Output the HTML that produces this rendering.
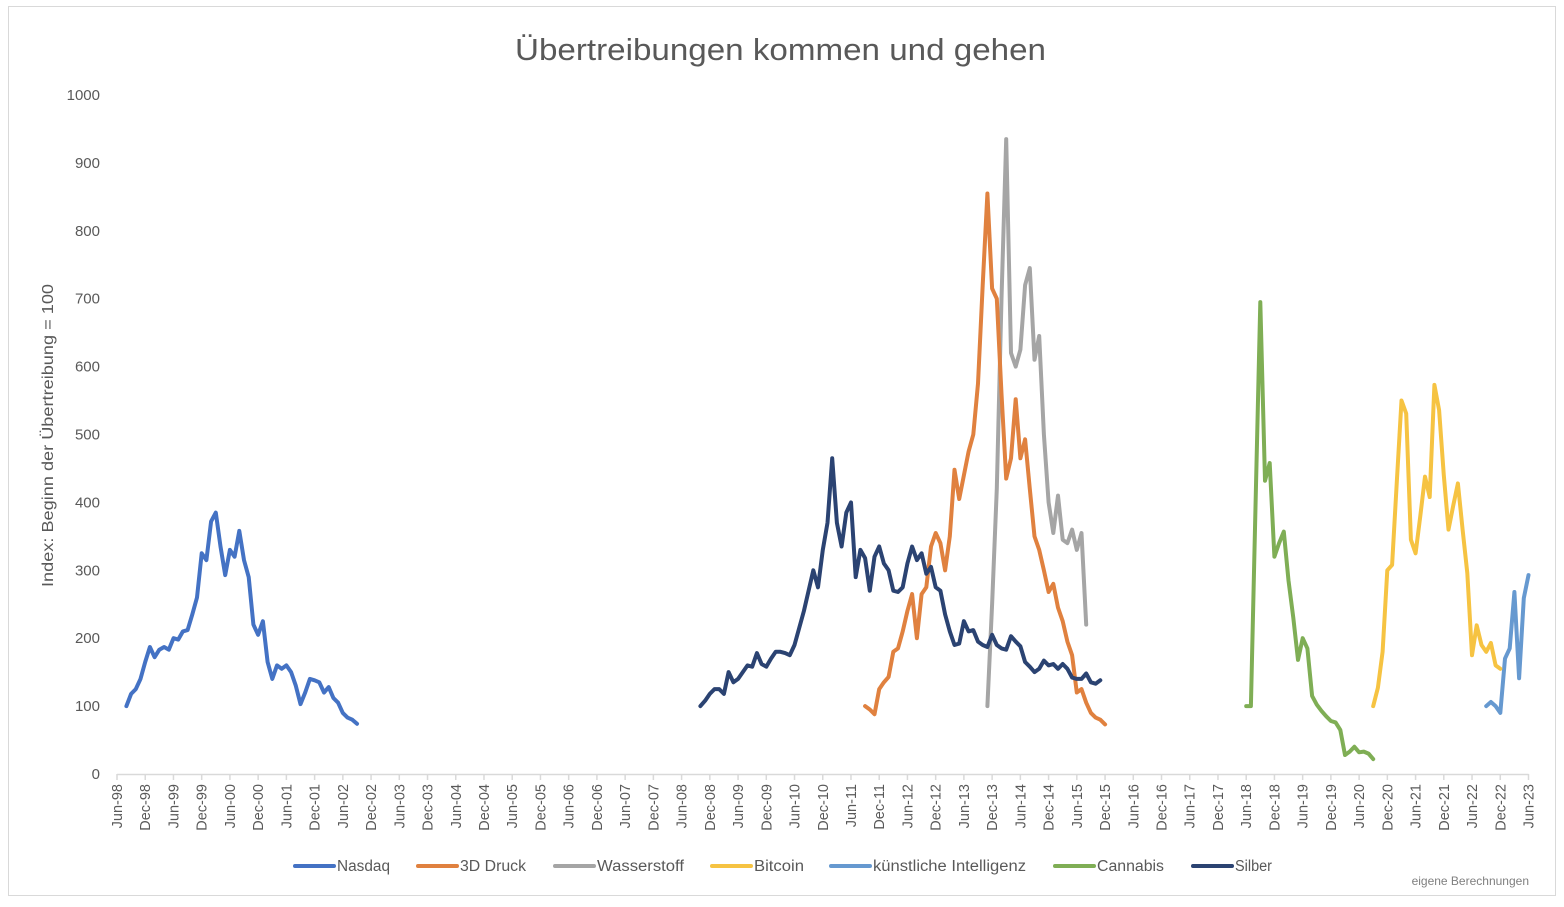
<!DOCTYPE html>
<html><head><meta charset="utf-8"><title>Übertreibungen kommen und gehen</title>
<style>
html,body{margin:0;padding:0;background:#fff;}
body{width:1564px;height:902px;overflow:hidden;font-family:"Liberation Sans",sans-serif;}
</style></head>
<body>
<svg id="chart" width="1564" height="902" viewBox="0 0 1564 902" xmlns="http://www.w3.org/2000/svg" font-family="Liberation Sans, sans-serif">
<rect x="8.5" y="6.5" width="1547" height="889" fill="#fff" stroke="#d9d9d9"/>
<text x="515" y="60" textLength="531" lengthAdjust="spacingAndGlyphs" font-size="31" fill="#595959">Übertreibungen kommen und gehen</text>
<text transform="translate(53,587) rotate(-90)" textLength="303" lengthAdjust="spacingAndGlyphs" font-size="16" fill="#595959">Index: Beginn der Übertreibung = 100</text>
<g id="yticks"></g>
<g id="xaxis"></g>
<g id="series"></g>
<g id="legend"></g>
<text x="1529" y="885" text-anchor="end" font-size="12" fill="#7f7f7f">eigene Berechnungen</text>
</svg>
<script>
const yTicks = [0,100,200,300,400,500,600,700,800,900,1000];
const xTickLabels = [];
const years = ['98','99','00','01','02','03','04','05','06','07','08','09','10','11','12','13','14','15','16','17','18','19','20','21','22','23'];
// monthly values; start = months after Jun-98
const nasdaqStart = 2;
const nasdaq = [100,118,125,140,165,187,172,183,187,183,200,198,210,212,235,260,325,315,372,385,335,293,330,320,358,315,290,220,205,225,165,140,160,155,160,150,130,103,120,140,138,135,120,128,112,105,90,83,80,74];
const silberStart = 124;
const silber = [100,108,118,125,125,118,150,135,140,150,160,158,178,162,158,170,180,180,178,175,190,215,240,270,300,275,330,370,465,370,335,385,400,290,330,318,270,320,335,310,300,270,268,275,310,335,315,325,295,305,275,270,235,210,190,192,225,210,212,195,190,187,205,190,185,183,203,195,188,165,158,150,155,167,160,162,155,162,155,142,140,140,148,135,133,138];
const druckStart = 159;
const druck = [100,95,88,125,135,143,180,185,210,240,265,200,265,275,335,355,340,300,350,448,405,440,475,500,575,720,855,715,700,560,435,465,552,465,493,420,350,330,300,268,280,245,225,195,175,120,125,105,90,83,80,73];
const wasserStart = 185;
const wasser = [100,250,420,700,935,620,600,625,720,745,610,645,500,400,355,410,345,340,360,330,355,220];
const cannabisStart = 240;
const cannabis = [100,100,400,695,432,458,320,340,357,285,230,168,200,185,115,102,93,85,78,76,65,28,33,40,32,33,30,22];
const bitcoinStart = 267;
const bitcoin = [100,127,180,300,308,430,550,531,345,325,380,438,408,573,536,440,360,395,428,360,296,175,219,190,180,193,160,155];
const kiStart = 291;
const ki = [100,106,100,90,170,185,268,141,259,293];

const NS='http://www.w3.org/2000/svg';
const X0=117, MONTH=4.705, Y0=774, YSCALE=679/1000;
function xScale(m){return X0+m*MONTH;}
function yScale(v){return Y0-v*YSCALE;}
function mk(tag,attrs,parent){const e=document.createElementNS(NS,tag);for(const k in attrs)e.setAttribute(k,attrs[k]);parent.appendChild(e);return e;}

const yg=document.getElementById('yticks');
yTicks.forEach(v=>{
  const t=mk('text',{x:100,y:yScale(v)+5,'text-anchor':'end','font-size':15,fill:'#595959'},yg);
  
  
  t.textContent=v;
});

const xg=document.getElementById('xaxis');
years.forEach((y,i)=>{xTickLabels.push('Jun-'+y); if(i<years.length-1) xTickLabels.push('Dec-'+y);});
const al=mk('line',{x1:X0,y1:Y0+0.5,x2:xScale((xTickLabels.length-1)*6),y2:Y0+0.5,stroke:'#d9d9d9','stroke-width':1.5},xg);


xTickLabels.forEach((lab,i)=>{
  const x=xScale(i*6);
  const tk=mk('line',{x1:x,y1:Y0,x2:x,y2:Y0+6,stroke:'#d9d9d9','stroke-width':1.5},xg);
  
  
  const t=mk('text',{transform:`translate(${x+5},784) rotate(-90)`,'text-anchor':'end','font-size':14.5,fill:'#595959'},xg);
  
  
  t.textContent=lab;
});

const sg=document.getElementById('series');
const series=[
  {name:'Nasdaq',key:'nasdaq',start:nasdaqStart,data:nasdaq,color:'#4472c4'},
  {name:'3D Druck',key:'3d-druck',start:druckStart,data:druck,color:'#e0813f'},
  {name:'Wasserstoff',key:'wasserstoff',start:wasserStart,data:wasser,color:'#a5a5a5'},
  {name:'Bitcoin',key:'bitcoin',start:bitcoinStart,data:bitcoin,color:'#f6c342'},
  {name:'künstliche Intelligenz',key:'ki',start:kiStart,data:ki,color:'#6699d0'},
  {name:'Cannabis',key:'cannabis',start:cannabisStart,data:cannabis,color:'#7fae55'},
  {name:'Silber',key:'silber',start:silberStart,data:silber,color:'#2b4372'}
];
const drawOrder=['nasdaq','ki','bitcoin','cannabis','wasserstoff','3d-druck','silber'];
drawOrder.forEach(k=>{
  const s=series.find(z=>z.key===k);
  const pts=s.data.map((v,i)=>xScale(s.start+i).toFixed(1)+','+yScale(v).toFixed(1)).join(' ');
  const p=mk('polyline',{points:pts,fill:'none',stroke:s.color,'stroke-width':4,'stroke-linejoin':'round','stroke-linecap':'round'},sg);
  
  
});

const lg=document.getElementById('legend');
const legendX=[293,416,553,710,829,1053,1191];
const legendW=[53,66,87,50,153,67,37];
series.forEach((s,i)=>{
  const g=mk('g',{},lg);
  
  
  mk('line',{x1:legendX[i]+2,y1:866,x2:legendX[i]+41,y2:866,stroke:s.color,'stroke-width':4,'stroke-linecap':'round'},g);
  const t=mk('text',{x:legendX[i]+44,y:871,'font-size':15.5,fill:'#595959',textLength:legendW[i],lengthAdjust:'spacingAndGlyphs'},g);
  t.textContent=s.name;
});
</script>
</body></html>
